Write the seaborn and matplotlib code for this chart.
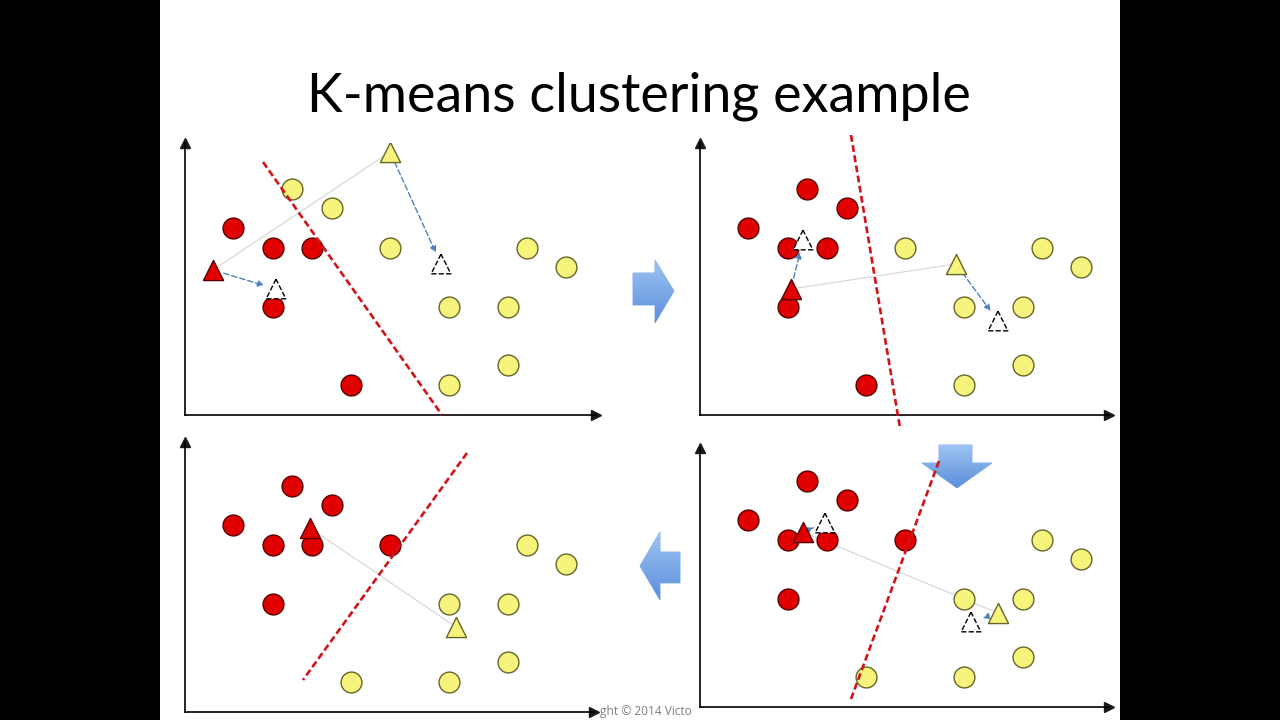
import numpy as np
import pandas as pd
import matplotlib
matplotlib.use("Agg")
import matplotlib.pyplot as plt
from matplotlib.patches import Polygon, Rectangle
from matplotlib.colors import LinearSegmentedColormap
import seaborn as sns

# ── data (pixel units measured from each panel's axis origin) ────────────────
PTS_X = [48, 107, 147, 88, 127, 205, 342, 381, 88, 264, 323, 323, 166, 264]
PTS_Y = [187, 226, 207, 167, 167, 167, 167, 148, 108, 108, 108, 50, 30, 30]

# cluster assignment per step: r = red, y = yellow
LABELS = [
    list("ryyrryyyryyyry"),
    list("rrrrryyyryyyry"),
    list("rrrrrryyryyyyy"),
    list("rrrrrryyryyyyy"),
]

# centroid track (step k shows centroid k filled and k+1 as the dashed target)
RED_CX = [28, 91, 103, 125]
RED_CY = [145, 126, 175, 184]
YEL_CX = [205, 256, 298, 271]
YEL_CY = [263, 151, 94, 85]

# decision boundary end points per step
BOUND_X0 = [78, 151, 239, 282]
BOUND_Y0 = [253, 280, 246, 259]
BOUND_X1 = [257, 200, 151, 118]
BOUND_Y1 = [0, -13, 8, 32]

TITLE = "K-means clustering example"
FOOTER = "ght \u00a9 2014 Victo"

# ── layout ────────────────────────────────────────────────────────────────────
W, H = 1280, 720
# (origin x, origin y, x length, y length) in figure pixels, steps 1..4
PANELS = [(185, 415, 411, 272), (700, 415, 409, 272),
          (700, 707, 409, 259), (185, 712, 409, 270)]

RED, RED_EDGE = "#e00000", "#5a0000"
YEL, YEL_EDGE = "#f6f47c", "#66662a"
palette = {"r": RED, "y": YEL}
edges = {"r": RED_EDGE, "y": YEL_EDGE}

sns.set_theme(style="white")
plt.rcParams["font.family"] = ["Lato", "DejaVu Sans"]

fig = plt.figure(figsize=(W / 100, H / 100), dpi=100, facecolor="black")

# background slide in pixel coordinates
bg = fig.add_axes([0, 0, 1, 1])
bg.set_xlim(0, W)
bg.set_ylim(H, 0)
bg.axis("off")
bg.add_patch(Rectangle((160, 0), 960, H, facecolor="white", edgecolor="none"))
bg.text(639, 96, TITLE, ha="center", va="center", fontsize=38.8, color="black")
bg.text(600, 711, FOOTER, ha="left", va="center", fontsize=8.6, color="#7f7f7f",
        family=["Open Sans", "DejaVu Sans"])

# block arrows between the panels
blue_cmap = LinearSegmentedColormap.from_list("blk", ["#9ec3f2", "#5b8fdc"])
block_arrows = [
    [(633, 273), (655, 273), (655, 260), (674, 291), (655, 323), (655, 305), (633, 305)],
    [(939, 445), (972, 445), (972, 463), (992, 463), (957, 488), (922, 463), (939, 463)],
    [(680, 552), (660, 552), (660, 532), (640, 566), (660, 600), (660, 583), (680, 583)],
]
grad = np.linspace(0, 1, 64).reshape(-1, 1)
for verts in block_arrows:
    poly = Polygon(verts, closed=True, facecolor="none", edgecolor="#79a3de", lw=0.6)
    bg.add_patch(poly)
    xs = [v[0] for v in verts]
    ys = [v[1] for v in verts]
    im = bg.imshow(grad, cmap=blue_cmap, aspect="auto",
                   extent=(min(xs), max(xs), max(ys), min(ys)), zorder=1)
    im.set_clip_path(poly)
bg.set_xlim(0, W)
bg.set_ylim(H, 0)

# ── the four k-means steps ────────────────────────────────────────────────────
for k, (ox, oy, xl, yl) in enumerate(PANELS):
    ax = fig.add_axes([ox / W, (H - oy) / H, xl / W, yl / H])
    ax.patch.set_alpha(0)
    ax.set_xlim(0, xl)
    ax.set_ylim(0, yl)
    ax.set_xticks([])
    ax.set_yticks([])
    sns.despine(ax=ax)
    for side in ("left", "bottom"):
        ax.spines[side].set_color("black")
        ax.spines[side].set_linewidth(1.2)
    ax.plot(1, 0, ">k", ms=6.5, transform=ax.transAxes, clip_on=False)
    ax.plot(0, 1, "^k", ms=6.5, transform=ax.transAxes, clip_on=False)

    # line between the current centroids
    ax.plot([RED_CX[k], YEL_CX[k]], [RED_CY[k], YEL_CY[k]],
            color="#d9d9d9", lw=0.9, zorder=1)

    df = pd.DataFrame({"x": PTS_X, "y": PTS_Y, "cluster": LABELS[k]})
    for c in ("r", "y"):
        sns.scatterplot(data=df[df["cluster"] == c], x="x", y="y",
                        color=palette[c], edgecolor=edges[c], linewidth=1.0,
                        s=225, ax=ax, legend=False, zorder=3)
    ax.set_xlabel("")
    ax.set_ylabel("")

    # moves of the centroids
    if k < 3:
        for cx, cy in ((RED_CX, RED_CY), (YEL_CX, YEL_CY)):
            ax.annotate("", xy=(cx[k + 1], cy[k + 1]), xytext=(cx[k], cy[k]),
                        arrowprops=dict(arrowstyle="-|>", color="#4f81bd", lw=1.0,
                                        linestyle=(0, (4, 2)), mutation_scale=9,
                                        shrinkA=8, shrinkB=9),
                        zorder=4)
        ax.scatter([RED_CX[k + 1], YEL_CX[k + 1]], [RED_CY[k + 1], YEL_CY[k + 1]],
                   marker="^", s=200, facecolor="white", edgecolor="black",
                   linewidth=1.0, linestyle="--", zorder=5)

    ax.scatter([RED_CX[k]], [RED_CY[k]], marker="^", s=210, color=RED,
               edgecolor=RED_EDGE, linewidth=1.0, zorder=6)
    ax.scatter([YEL_CX[k]], [YEL_CY[k]], marker="^", s=210, color=YEL,
               edgecolor=YEL_EDGE, linewidth=1.0, zorder=6)

    # decision boundary
    ax.plot([BOUND_X0[k], BOUND_X1[k]], [BOUND_Y0[k], BOUND_Y1[k]],
            color="#d0141a", lw=1.9, dashes=(2.6, 1.3), clip_on=False, zorder=7)

fig.savefig("out.png", dpi=100, facecolor=fig.get_facecolor())
